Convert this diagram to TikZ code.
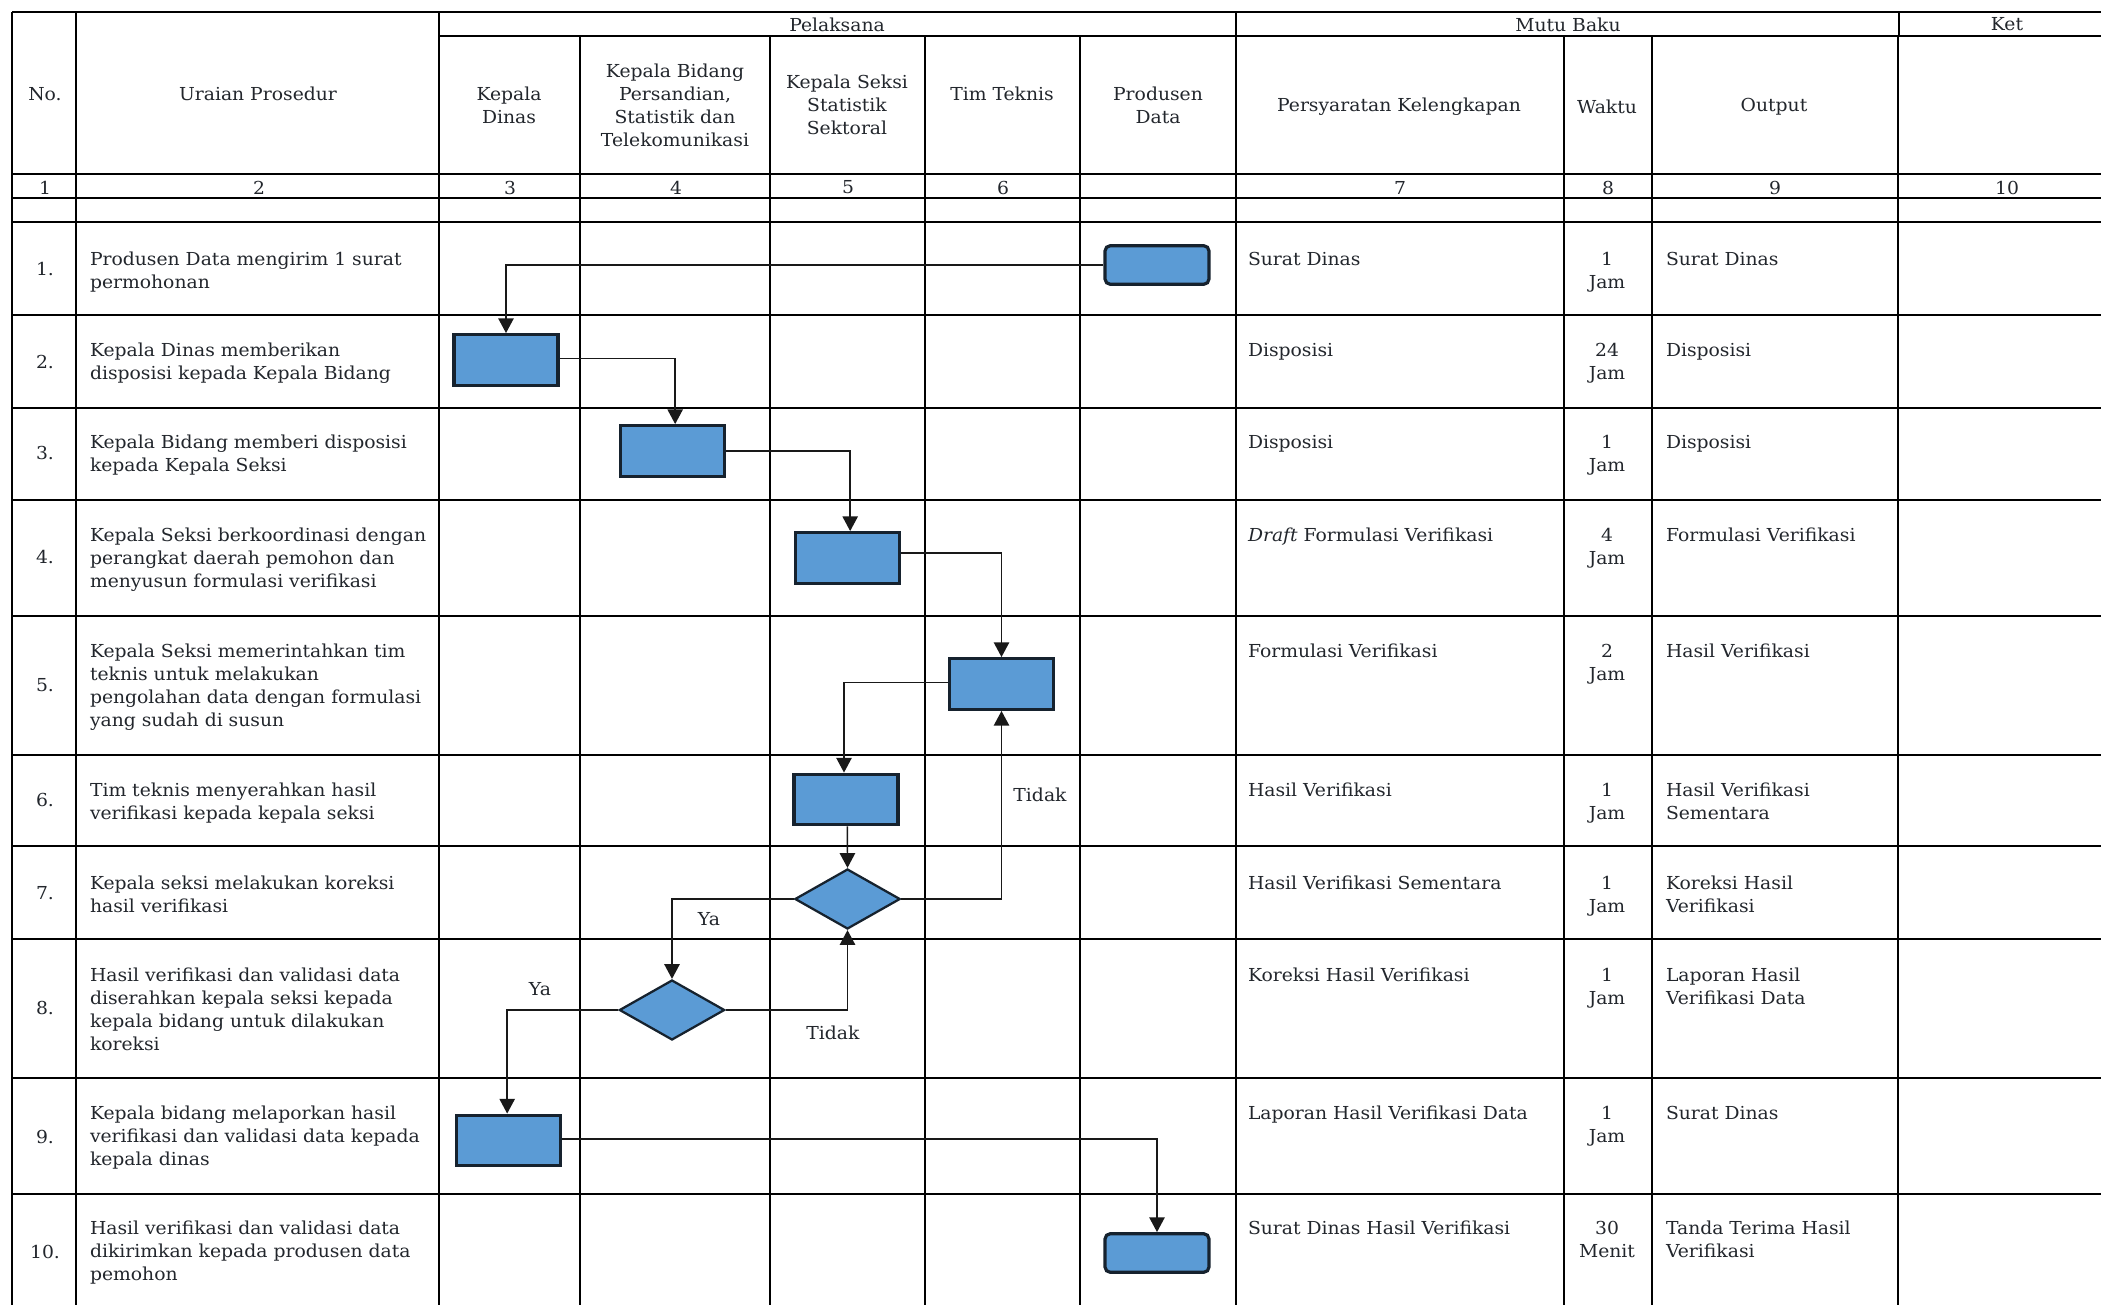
\documentclass[tikz,border=0pt]{standalone}
\usepackage{fontspec}
\usetikzlibrary{arrows.meta,shapes.geometric}
\setmainfont[FakeStretch=1.05]{DejaVu Serif}
\definecolor{flowblue}{HTML}{5B9BD5}
\definecolor{flowedge}{HTML}{16222E}
\definecolor{inkc}{HTML}{22262C}
\tikzset{
  x=0.75pt,y=-0.75pt,
  grid/.style={line width=1.2pt,black},
  txt/.style={inner sep=0pt,outer sep=0pt,text=inkc,font=\fontsize{13.4}{17.3}\selectfont},
  lefttxt/.style={txt,align=left,anchor=north west},
  midtxt/.style={txt,align=center},
  toptxt/.style={txt,align=center,anchor=north},
  procbox/.style={draw=flowedge,fill=flowblue,line width=2.4pt,minimum width=78pt,minimum height=38pt,inner sep=0pt},
  termbox/.style={procbox,rounded corners=4pt,minimum height=29pt},
  decbox/.style={diamond,aspect=1.75,draw=flowedge,fill=flowblue,line width=1.7pt,minimum width=79pt,minimum height=45pt,inner sep=0pt},
  flow/.style={draw=black!90,line width=1.05pt,-{Triangle[length=11pt,width=11.5pt]}},
}
\begin{document}
\begin{tikzpicture}
\useasboundingbox (0,0) rectangle (2101,1305);
% table grid
\draw[grid] (12,12) -- (2101,12);
\draw[grid] (439,36) -- (2101,36);
\foreach \yy in {174,198,222,315,408,500,616,755,846,939,1078,1194}
  \draw[grid] (12,\yy) -- (2101,\yy);
\foreach \xx in {12,76,439,1236}
  \draw[grid] (\xx,12) -- (\xx,1305);
\draw[grid] (1899,12) -- (1899,36);
\foreach \xx in {580,770,925,1080,1564,1652,1898}
  \draw[grid] (\xx,36) -- (\xx,1305);
% header
\node[midtxt] (hP) at (837,24.5) {Pelaksana};
\node[midtxt] (hM) at (1568,24.5) {Mutu Baku};
\node[midtxt] (hK) at (2007,24.5) {Ket};
\node[midtxt] (hNo) at (45,94) {No.};
\node[midtxt] (hU) at (258,94) {Uraian Prosedur};
\node[midtxt] (hD) at (509,105) {Kepala\\Dinas};
\node[midtxt] (hB) at (675,105) {Kepala Bidang\\Persandian,\\Statistik dan\\Telekomunikasi};
\node[midtxt] (hS) at (847,105) {Kepala Seksi\\Statistik\\Sektoral};
\node[midtxt] (hT) at (1002,94) {Tim Teknis};
\node[midtxt] (hPD) at (1158,105) {Produsen\\Data};
\node[midtxt] (hPK) at (1399,106.5) {Persyaratan Kelengkapan};
\node[midtxt] (hW) at (1607,106.5) {Waktu};
\node[midtxt] (hO) at (1774,106.5) {Output};
\foreach \nm/\xx/\tt in {a/45/1,b/259/2,c/510/3,d/676/4,e/848/5,f/1003/6,g/1400/7,h/1608/8,i/1775/9,j/2007/10}
  \node[midtxt] (num\nm) at (\xx,187.5) {\tt};
% row numbers
\foreach \i/\yy in {1/269,2/362,3/453,4/557,5/685,6/800,7/893,8/1008,9/1137,10/1252}
  \node[midtxt] (no\i) at (45,\yy) {\i.};
% procedure text
\foreach \i/\yy/\tt in {
 1/252/{Produsen Data mengirim 1 surat\\permohonan},
 2/343/{Kepala Dinas memberikan\\disposisi kepada Kepala Bidang},
 3/435/{Kepala Bidang memberi disposisi\\kepada Kepala Seksi},
 4/528/{Kepala Seksi berkoordinasi dengan\\perangkat daerah pemohon dan\\menyusun formulasi verifikasi},
 5/644/{Kepala Seksi memerintahkan tim\\teknis untuk melakukan\\pengolahan data dengan formulasi\\yang sudah di susun},
 6/783/{Tim teknis menyerahkan hasil\\verifikasi kepada kepala seksi},
 7/876/{Kepala seksi melakukan koreksi\\hasil verifikasi},
 8/968/{Hasil verifikasi dan validasi data\\diserahkan kepala seksi kepada\\kepala bidang untuk dilakukan\\koreksi},
 9/1106/{Kepala bidang melaporkan hasil\\verifikasi dan validasi data kepada\\kepala dinas},
 10/1221/{Hasil verifikasi dan validasi data\\dikirimkan kepada produsen data\\pemohon}}
  \node[lefttxt] (u\i) at (90,\yy) {\tt};
% requirements
\foreach \i/\yy/\tt in {
 1/252/{Surat Dinas},
 2/343/{Disposisi},
 3/435/{Disposisi},
 4/528/{\textit{Draft} Formulasi Verifikasi},
 5/644/{Formulasi Verifikasi},
 6/783/{Hasil Verifikasi},
 7/876/{Hasil Verifikasi Sementara},
 8/968/{Koreksi Hasil Verifikasi},
 9/1106/{Laporan Hasil Verifikasi Data},
 10/1221/{Surat Dinas Hasil Verifikasi}}
  \node[lefttxt] (r\i) at (1248,\yy) {\tt};
% time
\foreach \i/\yy/\tt in {
 1/252/{1\\Jam},2/343/{24\\Jam},3/435/{1\\Jam},4/528/{4\\Jam},5/644/{2\\Jam},
 6/783/{1\\Jam},7/876/{1\\Jam},8/968/{1\\Jam},9/1106/{1\\Jam},10/1221/{30\\Menit}}
  \node[toptxt] (w\i) at (1607,\yy) {\tt};
% output
\foreach \i/\yy/\tt in {
 1/252/{Surat Dinas},
 2/343/{Disposisi},
 3/435/{Disposisi},
 4/528/{Formulasi Verifikasi},
 5/644/{Hasil Verifikasi},
 6/783/{Hasil Verifikasi\\Sementara},
 7/876/{Koreksi Hasil\\Verifikasi},
 8/968/{Laporan Hasil\\Verifikasi Data},
 9/1106/{Surat Dinas},
 10/1221/{Tanda Terima Hasil\\Verifikasi}}
  \node[lefttxt] (o\i) at (1666,\yy) {\tt};
% flow shapes
\node[termbox] (s1) at (1157,265) {};
\node[procbox] (s2) at (506,360) {};
\node[procbox] (s3) at (672.5,451) {};
\node[procbox] (s4) at (847.5,558) {};
\node[procbox] (s5) at (1001.5,684) {};
\node[procbox] (s6) at (846,799.5) {};
\node[decbox] (s7) at (847.5,899) {};
\node[decbox] (s8) at (672,1010) {};
\node[procbox] (s9) at (508.5,1140.5) {};
\node[termbox] (s10) at (1157,1253) {};
% connectors
\draw[flow] (s1.west) -| (s2.north);
\draw[flow] ([yshift=1pt]s2.east) -| ([xshift=2pt]s3.north);
\draw[flow] (s3.east) -| ([xshift=2pt]s4.north);
\draw[flow] ([yshift=3.75pt]s4.east) -| (s5.north);
\draw[flow] ([yshift=1pt]s5.west) -| ([xshift=-1.5pt]s6.north);
\draw[flow] ([xshift=1pt]s6.south) -- (s7.north);
\draw[flow] (s7.east) -| (s5.south);
\draw[flow] (s7.west) -| (s8.north);
\draw[flow] (s8.east) -| (s7.south);
\draw[flow] (s8.west) -| ([xshift=-1pt]s9.north);
\draw[flow] ([yshift=1pt]s9.east) -| (s10.north);
% labels
\node[midtxt] (l1) at (1040,795) {Tidak};
\node[midtxt] (l2) at (709,919) {Ya};
\node[midtxt] (l3) at (540,989) {Ya};
\node[midtxt] (l4) at (833,1033) {Tidak};
\end{tikzpicture}
\end{document}
